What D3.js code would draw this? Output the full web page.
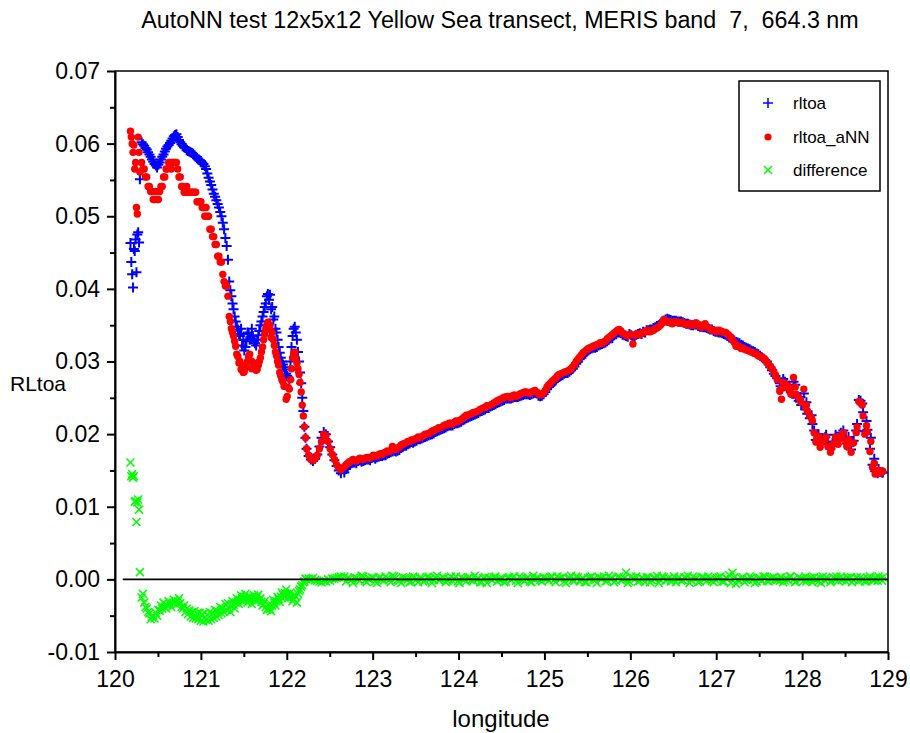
<!DOCTYPE html>
<html>
<head>
<meta charset="utf-8">
<script src="https://cdn.jsdelivr.net/npm/d3@7/dist/d3.min.js"></script>
<style>
  html, body { margin: 0; padding: 0; background: #fff; }
  svg { display: block; font-family: "Liberation Sans", Arial, sans-serif; }
</style>
</head>
<body>
<svg id="chart" width="910" height="733"></svg>
<script>
// Transect samples along the Yellow Sea track (longitude, degrees E)
const longitude = [
  120.18,120.19,120.20,120.21,120.22,120.23,120.24,120.25,120.26,120.27,120.28,120.29,
  120.31,120.34,120.37,120.40,120.43,120.46,120.49,120.52,120.55,120.58,120.61,120.64,120.67,120.70,
  120.73,120.76,120.79,120.82,120.85,120.88,120.91,120.94,120.97,121.00,121.03,121.06,121.09,121.12,
  121.15,121.18,121.21,121.24,121.27,121.30,
  121.33,121.355,121.38,121.405,121.43,121.455,121.48,121.505,121.53,121.555,121.58,121.605,121.63,
  121.655,121.68,121.705,121.73,121.755,121.78,121.805,121.83,121.855,121.88,121.905,121.93,121.955,
  121.98,122.005,122.03,122.055,122.08,122.105,122.13,122.155,122.18,122.205,122.23,122.255,122.28,
  122.305,122.33,122.355,122.38,122.405,122.43,122.455,122.48,122.505,122.53,122.555,122.58,122.605,122.63,
  122.67,122.71,122.75,122.79,122.83,122.87,122.91,122.95,122.99,123.03,123.07,123.11,123.15,123.19,
  123.23,123.27,123.31,123.35,123.39,123.43,123.47,123.51,123.55,123.59,123.63,123.67,123.71,123.75,
  123.79,123.83,123.87,123.91,123.95,123.99,124.03,124.07,124.11,124.15,124.19,124.23,124.27,124.31,
  124.35,124.39,124.43,124.47,124.51,124.55,124.59,124.63,124.67,124.71,124.75,124.79,124.83,124.87,
  124.91,124.95,124.99,125.03,
  125.07,125.11,125.15,125.19,125.23,125.27,125.31,125.35,125.39,125.43,125.47,125.51,125.55,125.59,
  125.63,125.67,125.71,125.75,125.79,125.83,125.87,125.91,125.95,125.99,126.03,126.07,126.11,126.15,
  126.19,126.23,126.27,126.31,126.35,126.39,126.43,126.47,126.51,126.55,126.59,126.63,126.67,126.71,
  126.75,126.79,126.83,126.87,126.91,126.95,126.99,127.03,127.07,127.11,127.15,127.19,127.23,127.27,
  127.31,127.35,127.39,127.43,127.47,127.51,127.55,127.59,127.63,127.67,127.71,
  127.74,127.76,127.78,127.81,127.84,127.87,127.90,127.93,127.96,127.99,128.02,128.04,128.06,128.09,
  128.12,128.14,128.16,128.19,128.21,128.24,128.27,128.30,128.33,128.36,128.39,128.42,128.45,128.48,
  128.51,128.54,128.57,128.60,128.63,128.66,128.68,128.71,128.73,128.76,128.79,128.82,128.85,128.88,
  128.91,128.94,
  // in-between samples
  120.325,120.355,120.385,120.415,120.445,120.475,120.505,120.535,120.565,120.595,120.625,120.655,
  120.685,120.715,120.745,120.775,120.805,120.835,120.865,120.895,120.925,120.955,120.985,121.015,
  121.045,121.075,121.105,121.135,121.165,121.195,121.225,121.255,121.285,121.315,
  121.343,121.368,121.393,121.418,121.443,121.468,121.493,121.518,121.543,121.568,121.593,121.618,
  121.643,121.668,121.693,121.718,121.743,121.768,121.793,121.818,121.843,121.868,121.893,121.918,
  121.943,121.968,121.993,122.018,122.043,122.068,122.093,122.118,122.143,122.168,122.193,122.218,
  122.69,122.73,122.77,122.81,122.85,122.89,122.93,122.97,123.01,123.05,123.09,123.13,123.17,123.21,
  123.25,123.29,123.33,123.37,123.41,123.45,123.49,123.53,123.57,123.61,123.65,123.69,123.73,123.77,
  123.81,123.85,123.89,123.93,123.97,124.01,124.05,124.09,124.13,124.17,124.21,124.25,124.29,124.33,
  124.37,124.41,124.45,124.49,124.53,124.57,124.61,124.65,124.69,124.73,124.77,124.81,124.85,124.89,
  124.93,124.97,125.01,
  125.05,125.09,125.13,125.17,125.21,125.25,125.29,125.33,125.37,125.41,125.45,125.49,125.53,125.57,
  125.61,125.65,125.69,125.73,125.77,125.81,125.85,125.89,125.93,125.97,126.01,126.05,126.09,126.13,
  126.17,126.21,126.25,126.29,126.33,126.37,126.41,126.45,126.49,126.53,126.57,126.61,126.65,126.69,
  126.73,126.77,126.81,126.85,126.89,126.93,126.97,127.01,127.05,127.09,127.13,127.17,127.21,127.25,
  127.29,127.33,127.37,127.41,127.45,127.49,127.53,127.57,127.61,127.65,127.69,
  127.75,127.80,127.86,127.92,127.98,128.05,128.11,128.17,128.22,128.28,128.34,128.40,128.46,128.52,
  128.58,128.64,128.70,128.75,128.80,128.84,128.89,128.93
];

// Measured top-of-atmosphere reflectance
const rltoa = [
  0.0463,0.0437,0.0420,0.0402,0.0455,0.0452,0.0468,0.0423,0.0475,0.0478,0.0464,0.0551,
  0.0602,0.0597,0.0592,0.0585,0.0578,0.0572,0.0567,0.0574,0.0582,0.0589,0.0596,0.0601,0.0607,0.0612,
  0.0609,0.0602,0.0597,0.0594,0.0590,0.0588,0.0586,0.0582,0.0578,0.0576,0.0572,0.0565,0.0553,0.0543,
  0.0531,0.0522,0.0512,0.0500,0.0482,0.0459,
  0.0410,0.0390,0.0372,0.0355,0.0344,0.0335,0.0322,0.0315,0.0328,0.0338,0.0332,0.0335,0.0325,
  0.0330,0.0342,0.0355,0.0368,0.0380,0.0393,0.0392,0.0375,0.0362,0.0340,0.0320,0.0305,0.0296,
  0.0289,0.0280,0.0275,0.0320,0.0345,0.0340,0.0313,0.0285,0.0250,0.0210,0.0180,0.0170,0.0165,
  0.0163,0.0166,0.0172,0.0183,0.0195,0.0203,0.0200,0.0190,0.0182,0.0172,0.0164,0.0156,0.0150,0.0146,
  0.0147,0.0155,0.0160,0.0161,0.0163,0.0162,0.0164,0.0165,0.0167,0.0166,0.0169,0.0170,0.0171,0.0174,
  0.0176,0.0176,0.0178,0.0182,0.0184,0.0187,0.0188,0.0191,0.0193,0.0195,0.0197,0.0199,0.0201,0.0204,
  0.0206,0.0208,0.0211,0.0212,0.0214,0.0215,0.0217,0.0220,0.0223,0.0225,0.0227,0.0229,0.0232,0.0234,
  0.0236,0.0239,0.0241,0.0244,0.0246,0.0249,0.0249,0.0250,0.0251,0.0252,0.0254,0.0255,0.0254,0.0256,
  0.0256,0.0252,0.0255,0.0262,
  0.0267,0.0272,0.0277,0.0280,0.0283,0.0284,0.0288,0.0293,0.0300,0.0305,0.0311,0.0315,0.0318,0.0319,
  0.0322,0.0324,0.0326,0.0330,0.0332,0.0338,0.0340,0.0337,0.0335,0.0338,0.0334,0.0337,0.0339,0.0341,
  0.0343,0.0344,0.0346,0.0349,0.0352,0.0356,0.0359,0.0357,0.0356,0.0355,0.0355,0.0353,0.0352,0.0350,
  0.0351,0.0349,0.0348,0.0347,0.0345,0.0344,0.0341,0.0340,0.0339,0.0337,0.0333,0.0331,0.0327,0.0325,
  0.0322,0.0319,0.0317,0.0314,0.0311,0.0308,0.0304,0.0300,0.0292,0.0283,0.0277,
  0.0270,0.0262,0.0276,0.0268,0.0261,0.0258,0.0272,0.0250,0.0246,0.0240,0.0256,0.0234,0.0228,0.0222,
  0.0214,0.0205,0.0192,0.0200,0.0186,0.0194,0.0196,0.0188,0.0180,0.0190,0.0199,0.0191,0.0202,0.0205,
  0.0193,0.0196,0.0179,0.0191,0.0205,0.0247,0.0246,0.0230,0.0204,0.0206,0.0180,0.0158,0.0149,0.0146,
  0.0148,0.0147,
  // in-between samples
  0.0599,0.0594,0.0588,0.0582,0.0575,0.0570,0.0571,0.0578,0.0585,0.0593,0.0598,0.0604,
  0.0610,0.0613,0.0605,0.0599,0.0595,0.0591,0.0589,0.0587,0.0584,0.0580,0.0577,0.0574,
  0.0569,0.0559,0.0548,0.0537,0.0527,0.0517,0.0506,0.0491,0.0470,0.0440,
  0.0398,0.0380,0.0362,0.0348,0.0338,0.0345,0.0330,0.0320,0.0340,0.0330,0.0345,0.0328,
  0.0322,0.0336,0.0350,0.0362,0.0375,0.0390,0.0385,0.0372,0.0358,0.0345,0.0330,0.0312,
  0.0300,0.0292,0.0283,0.0278,0.0300,0.0335,0.0348,0.0330,0.0300,0.0270,0.0232,0.0195,
  0.0152,0.0158,0.0161,0.0160,0.0164,0.0163,0.0165,0.0164,0.0168,0.0168,0.0170,0.0171,0.0173,0.0175,
  0.0177,0.0177,0.0181,0.0184,0.0186,0.0189,0.0190,0.0193,0.0194,0.0196,0.0198,0.0200,0.0203,0.0205,
  0.0207,0.0209,0.0212,0.0212,0.0215,0.0216,0.0219,0.0222,0.0224,0.0226,0.0228,0.0231,0.0233,0.0236,
  0.0238,0.0240,0.0243,0.0245,0.0247,0.0249,0.0249,0.0251,0.0251,0.0253,0.0255,0.0255,0.0255,0.0257,
  0.0253,0.0253,0.0258,
  0.0265,0.0270,0.0274,0.0279,0.0281,0.0284,0.0286,0.0290,0.0297,0.0303,0.0309,0.0313,0.0317,0.0319,
  0.0320,0.0323,0.0325,0.0328,0.0332,0.0336,0.0340,0.0339,0.0336,0.0334,0.0336,0.0335,0.0338,0.0338,
  0.0340,0.0343,0.0344,0.0347,0.0350,0.0354,0.0358,0.0358,0.0356,0.0356,0.0355,0.0354,0.0352,0.0351,
  0.0350,0.0351,0.0348,0.0347,0.0346,0.0344,0.0342,0.0341,0.0340,0.0338,0.0335,0.0332,0.0329,0.0326,
  0.0323,0.0320,0.0318,0.0315,0.0313,0.0310,0.0306,0.0302,0.0296,0.0288,0.0280,
  0.0266,0.0272,0.0262,0.0268,0.0251,0.0244,0.0226,0.0199,0.0192,0.0199,0.0184,0.0193,0.0198,0.0187,
  0.0190,0.0214,0.0242,0.0218,0.0195,0.0166,0.0152,0.0147
];

// Autoencoder (aNN) reconstruction of the same reflectance
const rltoaANN = [
  0.0617,0.0609,0.0600,0.0588,0.0598,0.0565,0.0574,0.0512,0.0503,0.0609,0.0588,0.0561,
  0.0574,0.0565,0.0554,0.0541,0.0534,0.0523,0.0523,0.0534,0.0541,0.0554,0.0565,0.0574,0.0574,0.0574,
  0.0565,0.0554,0.0541,0.0533,0.0533,0.0533,0.0533,0.0533,0.0520,0.0520,0.0512,0.0512,0.0500,0.0482,
  0.0472,0.0461,0.0445,0.0437,0.0410,0.0404,
  0.0362,0.0345,0.0335,0.0321,0.0307,0.0300,0.0290,0.0286,0.0292,0.0307,0.0301,0.0299,0.0292,
  0.0289,0.0300,0.0313,0.0330,0.0345,0.0354,0.0350,0.0340,0.0322,0.0308,0.0295,0.0280,0.0272,
  0.0266,0.0252,0.0262,0.0290,0.0311,0.0305,0.0290,0.0271,0.0240,0.0210,0.0180,0.0171,0.0165,
  0.0164,0.0166,0.0171,0.0180,0.0190,0.0200,0.0198,0.0190,0.0180,0.0172,0.0165,0.0158,0.0154,0.0151,
  0.0155,0.0160,0.0163,0.0164,0.0165,0.0166,0.0166,0.0168,0.0169,0.0170,0.0172,0.0172,0.0175,0.0176,
  0.0183,0.0179,0.0182,0.0186,0.0188,0.0190,0.0192,0.0194,0.0195,0.0198,0.0200,0.0202,0.0205,0.0207,
  0.0209,0.0212,0.0213,0.0215,0.0216,0.0217,0.0220,0.0224,0.0226,0.0228,0.0230,0.0232,0.0235,0.0237,
  0.0239,0.0241,0.0244,0.0247,0.0249,0.0251,0.0251,0.0253,0.0252,0.0255,0.0257,0.0258,0.0256,0.0259,
  0.0258,0.0254,0.0257,0.0265,
  0.0270,0.0275,0.0280,0.0283,0.0285,0.0287,0.0290,0.0296,0.0303,0.0309,0.0314,0.0318,0.0320,0.0322,
  0.0324,0.0325,0.0328,0.0333,0.0337,0.0341,0.0344,0.0339,0.0336,0.0337,0.0324,0.0338,0.0337,0.0340,
  0.0342,0.0341,0.0343,0.0346,0.0350,0.0358,0.0354,0.0353,0.0354,0.0354,0.0353,0.0352,0.0351,0.0350,
  0.0352,0.0351,0.0347,0.0352,0.0346,0.0343,0.0342,0.0343,0.0341,0.0340,0.0336,0.0330,0.0321,0.0320,
  0.0319,0.0316,0.0314,0.0312,0.0310,0.0307,0.0305,0.0299,0.0293,0.0286,0.0275,
  0.0259,0.0248,0.0271,0.0264,0.0266,0.0255,0.0278,0.0255,0.0250,0.0244,0.0262,0.0237,0.0232,0.0225,
  0.0218,0.0202,0.0189,0.0197,0.0182,0.0190,0.0193,0.0183,0.0175,0.0186,0.0196,0.0186,0.0198,0.0202,
  0.0189,0.0193,0.0175,0.0188,0.0202,0.0245,0.0243,0.0225,0.0200,0.0203,0.0176,0.0154,0.0145,0.0147,
  0.0146,0.0149,
  // in-between samples
  0.0565,0.0554,0.0541,0.0534,0.0523,0.0534,0.0523,0.0541,0.0554,0.0565,0.0574,0.0565,
  0.0574,0.0574,0.0554,0.0541,0.0533,0.0541,0.0533,0.0533,0.0533,0.0520,0.0520,0.0512,
  0.0500,0.0500,0.0482,0.0472,0.0461,0.0445,0.0437,0.0420,0.0404,0.0390,
  0.0355,0.0340,0.0328,0.0310,0.0298,0.0289,0.0285,0.0295,0.0300,0.0310,0.0290,0.0296,
  0.0288,0.0295,0.0305,0.0320,0.0338,0.0350,0.0345,0.0333,0.0330,0.0313,0.0300,0.0285,
  0.0275,0.0266,0.0248,0.0264,0.0275,0.0305,0.0313,0.0298,0.0282,0.0258,0.0225,0.0195,
  0.0158,0.0162,0.0165,0.0163,0.0167,0.0165,0.0168,0.0167,0.0171,0.0170,0.0173,0.0174,0.0177,0.0177,
  0.0180,0.0181,0.0185,0.0187,0.0190,0.0192,0.0193,0.0196,0.0196,0.0200,0.0201,0.0204,0.0206,0.0209,
  0.0210,0.0213,0.0215,0.0214,0.0218,0.0219,0.0222,0.0226,0.0227,0.0230,0.0231,0.0234,0.0236,0.0239,
  0.0240,0.0243,0.0246,0.0248,0.0251,0.0252,0.0250,0.0254,0.0253,0.0256,0.0258,0.0257,0.0258,0.0260,
  0.0256,0.0255,0.0260,
  0.0268,0.0273,0.0277,0.0282,0.0284,0.0286,0.0288,0.0293,0.0300,0.0306,0.0312,0.0316,0.0319,0.0321,
  0.0323,0.0326,0.0327,0.0331,0.0335,0.0339,0.0343,0.0342,0.0338,0.0335,0.0337,0.0336,0.0338,0.0339,
  0.0341,0.0343,0.0342,0.0345,0.0348,0.0353,0.0356,0.0355,0.0352,0.0355,0.0353,0.0354,0.0351,0.0352,
  0.0350,0.0353,0.0349,0.0350,0.0348,0.0345,0.0343,0.0341,0.0342,0.0340,0.0338,0.0333,0.0326,0.0322,
  0.0318,0.0317,0.0315,0.0313,0.0311,0.0308,0.0306,0.0302,0.0296,0.0290,0.0281,
  0.0262,0.0270,0.0258,0.0265,0.0247,0.0240,0.0222,0.0195,0.0188,0.0196,0.0180,0.0190,0.0195,0.0183,
  0.0187,0.0210,0.0240,0.0212,0.0190,0.0160,0.0150,0.0148
];

// aNN reconstruction minus measurement
const difference = [
  0.0161,0.0142,0.0145,0.0140,0.0142,0.0107,0.0108,0.0079,0.0106,0.0110,0.0096,0.0010,
  -0.0025,-0.0032,-0.0040,-0.0047,-0.0052,-0.0054,-0.0050,-0.0043,-0.0040,-0.0038,-0.0036,-0.0034,-0.0032,-0.0031,
  -0.0030,-0.0033,-0.0040,-0.0045,-0.0048,-0.0051,-0.0053,-0.0054,-0.0055,-0.0057,-0.0058,-0.0056,-0.0057,-0.0055,
  -0.0053,-0.0051,-0.0049,-0.0047,-0.0045,-0.0042,
  -0.0040,-0.0037,-0.0035,-0.0032,-0.0030,-0.0028,-0.0026,-0.0024,-0.0025,-0.0027,-0.0028,-0.0027,-0.0025,
  -0.0024,-0.0028,-0.0031,-0.0034,-0.0038,-0.0040,-0.0041,-0.0036,-0.0032,-0.0030,-0.0027,-0.0024,-0.0021,
  -0.0019,-0.0020,-0.0023,-0.0025,-0.0027,-0.0024,-0.0020,-0.0014,-0.0008,-0.0003,0.0000,0.0001,0.0000,
  0.0002,-0.0001,-0.0002,-0.0003,-0.0004,-0.0002,-0.0003,0.0000,-0.0002,0.0001,0.0001,0.0002,0.0003,0.0004,
  0.0004,0.0002,-0.0001,0.0003,0.0000,0.0005,-0.0002,0.0001,0.0003,-0.0003,0.0002,0.0000,0.0004,-0.0001,
  0.0005,0.0002,-0.0002,0.0003,0.0001,-0.0004,0.0004,0.0000,0.0002,-0.0003,0.0003,0.0001,-0.0001,0.0005,
  0.0000,0.0002,-0.0002,0.0004,0.0001,-0.0003,0.0003,0.0000,0.0002,-0.0001,0.0005,0.0001,-0.0004,0.0003,
  0.0002,-0.0001,0.0004,0.0000,0.0001,-0.0003,0.0003,0.0002,-0.0002,0.0004,0.0000,0.0001,-0.0003,0.0005,
  0.0002,-0.0001,0.0003,0.0001,
  0.0003,-0.0001,0.0004,0.0001,-0.0003,0.0002,0.0005,-0.0002,0.0003,0.0000,-0.0004,0.0002,0.0004,-0.0001,
  0.0003,0.0001,-0.0003,0.0005,0.0002,-0.0002,0.0004,0.0000,0.0009,-0.0003,0.0002,0.0004,-0.0002,0.0001,
  0.0003,-0.0004,0.0002,0.0005,-0.0001,0.0003,0.0000,-0.0003,0.0004,0.0001,-0.0002,0.0003,0.0005,-0.0001,
  0.0002,-0.0004,0.0003,0.0001,0.0004,-0.0002,0.0000,0.0003,-0.0003,0.0002,0.0006,0.0009,-0.0006,-0.0002,
  0.0003,-0.0001,0.0004,0.0000,-0.0003,0.0002,0.0004,-0.0002,0.0001,0.0003,-0.0001,
  -0.0002,0.0003,-0.0004,0.0002,-0.0001,0.0004,0.0000,-0.0003,0.0003,0.0001,-0.0002,0.0004,-0.0001,0.0002,
  -0.0004,0.0003,0.0000,-0.0003,0.0002,0.0004,-0.0002,0.0001,-0.0004,0.0003,0.0000,-0.0002,0.0004,0.0001,
  -0.0003,0.0002,0.0003,-0.0001,0.0002,-0.0002,0.0003,0.0000,-0.0003,0.0002,0.0004,-0.0001,0.0002,-0.0002,
  0.0001,0.0003,
  // in-between samples
  -0.0020,-0.0038,-0.0045,-0.0055,-0.0050,-0.0046,-0.0042,-0.0036,-0.0032,-0.0040,-0.0030,-0.0038,
  -0.0028,-0.0035,-0.0026,-0.0038,-0.0036,-0.0040,-0.0043,-0.0045,-0.0044,-0.0047,-0.0046,-0.0048,
  -0.0046,-0.0049,-0.0045,-0.0047,-0.0042,-0.0044,-0.0038,-0.0040,-0.0034,-0.0033,
  -0.0045,-0.0030,-0.0040,-0.0026,-0.0034,-0.0022,-0.0030,-0.0020,-0.0032,-0.0024,-0.0034,-0.0022,
  -0.0030,-0.0021,-0.0026,-0.0036,-0.0030,-0.0042,-0.0035,-0.0044,-0.0028,-0.0036,-0.0024,-0.0031,
  -0.0018,-0.0024,-0.0014,-0.0026,-0.0018,-0.0030,-0.0022,-0.0032,-0.0016,-0.0010,-0.0004,0.0001,
  -0.0003,0.0001,-0.0005,0.0002,-0.0002,0.0004,-0.0004,0.0000,0.0002,-0.0005,0.0003,-0.0002,0.0001,-0.0004,
  0.0004,-0.0001,-0.0005,0.0002,0.0000,-0.0003,0.0003,-0.0004,0.0001,-0.0002,0.0004,-0.0005,0.0002,-0.0001,
  0.0003,-0.0004,0.0000,-0.0002,0.0004,-0.0005,0.0001,-0.0003,0.0003,-0.0002,0.0000,-0.0004,0.0002,-0.0005,
  0.0001,0.0003,-0.0003,0.0000,-0.0004,0.0002,-0.0001,0.0004,-0.0005,0.0001,-0.0002,0.0003,-0.0004,0.0000,
  0.0002,-0.0003,0.0001,
  -0.0002,0.0004,-0.0004,0.0001,0.0003,-0.0005,0.0002,-0.0001,0.0004,-0.0003,0.0001,-0.0004,0.0003,0.0000,
  -0.0005,0.0002,0.0004,-0.0002,0.0001,-0.0004,0.0003,-0.0001,0.0002,-0.0005,0.0004,0.0000,-0.0003,0.0002,
  -0.0004,0.0003,-0.0001,0.0001,-0.0005,0.0004,-0.0002,0.0002,0.0000,-0.0004,0.0003,-0.0001,0.0002,-0.0005,
  0.0004,0.0001,-0.0003,0.0003,-0.0002,0.0000,-0.0004,0.0002,0.0004,-0.0003,0.0001,-0.0005,0.0003,-0.0001,
  0.0002,-0.0004,0.0000,0.0003,-0.0005,0.0001,-0.0002,0.0004,-0.0003,0.0002,0.0000,
  0.0003,-0.0002,0.0004,-0.0004,0.0001,-0.0003,0.0002,0.0000,-0.0005,0.0003,-0.0002,0.0004,-0.0001,0.0002,
  -0.0004,0.0003,0.0000,-0.0003,0.0002,-0.0001,0.0004,-0.0002
];

// Axis ticks
const xTicks = [120,121,122,123,124,125,126,127,128,129];
const xTickLabels = ["120","121","122","123","124","125","126","127","128","129"];
const xMinorTicks = [120.5,121.5,122.5,123.5,124.5,125.5,126.5,127.5,128.5];
const yTicks = [-0.01,0,0.01,0.02,0.03,0.04,0.05,0.06,0.07];
const yTickLabels = ["-0.01","0.00","0.01","0.02","0.03","0.04","0.05","0.06","0.07"];
const yMinorTicks = [-0.005,0.005,0.015,0.025,0.035,0.045,0.055,0.065];

const seriesNames = ["rltoa","rltoa_aNN","difference"];
const seriesColors = ["#0000ff","#ff0000","#00ff00"];

const titleText = "AutoNN test 12x5x12 Yellow Sea transect, MERIS band  7,  664.3 nm";

const svg = d3.select("#chart");
const plotLeft = 115, plotRight = 888, plotTop = 71, plotBottom = 652;

const x = d3.scaleLinear().domain([120,129]).range([plotLeft,plotRight]);
const y = d3.scaleLinear().domain([-0.01,0.07]).range([plotBottom,plotTop]);

const n = Math.min(longitude.length, rltoa.length, rltoaANN.length, difference.length);
const rows = longitude.slice(0,n).map((lon,i) => ({lon, a: rltoa[i], b: rltoaANN[i], d: difference[i]}));

// plot frame
svg.append("rect")
  .attr("x", plotLeft).attr("y", plotTop)
  .attr("width", plotRight-plotLeft).attr("height", plotBottom-plotTop)
  .attr("fill", "none").attr("stroke", "#000").attr("stroke-width", 1.5);

// markers
const plusPath = s => `M${-s},0H${s}M0,${-s}V${s}`;
const crossPath = s => `M${-s},${-s}L${s},${s}M${-s},${s}L${s},${-s}`;

const gData = svg.append("g");
gData.selectAll("path.rl").data(rows).join("path")
  .attr("class","rl")
  .attr("transform", d => `translate(${x(d.lon)},${y(d.a)})`)
  .attr("d", plusPath(5))
  .attr("fill","none").attr("stroke", seriesColors[0]).attr("stroke-width", 2);

gData.selectAll("circle.nn").data(rows).join("circle")
  .attr("class","nn")
  .attr("cx", d => x(d.lon)).attr("cy", d => y(d.b))
  .attr("r", 3.7)
  .attr("fill", seriesColors[1]);

gData.selectAll("path.df").data(rows).join("path")
  .attr("class","df")
  .attr("transform", d => `translate(${x(d.lon)},${y(d.d)})`)
  .attr("d", crossPath(4))
  .attr("fill","none").attr("stroke", seriesColors[2]).attr("stroke-width", 1.5);

// zero reference line
svg.append("line")
  .attr("x1", x(120.09)).attr("x2", plotRight)
  .attr("y1", y(0)).attr("y2", y(0))
  .attr("stroke", "#000").attr("stroke-width", 1.6);

// axes
const axisFont = 23;
const gx = svg.append("g").attr("transform", `translate(0,${plotBottom})`)
  .call(d3.axisBottom(x).tickValues(xTicks).tickSize(8).tickSizeOuter(0)
    .tickPadding(11).tickFormat((d,i) => xTickLabels[i]));
gx.select(".domain").attr("stroke-width", 2);
gx.selectAll(".tick line").attr("stroke-width", 2);
gx.selectAll("text").attr("font-size", axisFont).attr("fill","#000");

const gxm = svg.append("g").attr("transform", `translate(0,${plotBottom})`)
  .call(d3.axisBottom(x).tickValues(xMinorTicks).tickSize(5).tickSizeOuter(0).tickFormat(""));
gxm.select(".domain").remove();
gxm.selectAll(".tick line").attr("stroke-width", 2);

const gy = svg.append("g").attr("transform", `translate(${plotLeft},0)`)
  .call(d3.axisLeft(y).tickValues(yTicks).tickSize(8).tickSizeOuter(0)
    .tickPadding(7).tickFormat((d,i) => yTickLabels[i]));
gy.select(".domain").attr("stroke-width", 2);
gy.selectAll(".tick line").attr("stroke-width", 2);
gy.selectAll("text").attr("font-size", axisFont).attr("fill","#000");

const gym = svg.append("g").attr("transform", `translate(${plotLeft},0)`)
  .call(d3.axisLeft(y).tickValues(yMinorTicks).tickSize(5).tickSizeOuter(0).tickFormat(""));
gym.select(".domain").remove();
gym.selectAll(".tick line").attr("stroke-width", 2);

svg.selectAll(".domain, .tick line").attr("stroke","#000");
svg.selectAll("g").attr("font-family", null);

// titles
svg.append("text")
  .attr("x", 500).attr("y", 28)
  .attr("text-anchor","middle")
  .attr("font-size", 23.3)
  .style("white-space","pre")
  .text(titleText);

svg.append("text")
  .attr("x", 501).attr("y", 727)
  .attr("text-anchor","middle")
  .attr("font-size", 24)
  .text("longitude");

svg.append("text")
  .attr("x", 10).attr("y", 391)
  .attr("font-size", 21)
  .text("RLtoa");

// legend
const lg = svg.append("g");
lg.append("rect")
  .attr("x", 739).attr("y", 81).attr("width", 141).attr("height", 110)
  .attr("fill","#fff").attr("stroke","#000").attr("stroke-width", 1.5);
const legendY = [103, 137, 170];
seriesNames.forEach((name,i) => {
  const cy = legendY[i];
  if (i === 0) {
    lg.append("path").attr("transform", `translate(768,${cy})`).attr("d", plusPath(5))
      .attr("fill","none").attr("stroke", seriesColors[0]).attr("stroke-width", 1.5);
  } else if (i === 1) {
    lg.append("circle").attr("cx", 768).attr("cy", cy).attr("r", 3.6).attr("fill", seriesColors[1]);
  } else {
    lg.append("path").attr("transform", `translate(768,${cy})`).attr("d", crossPath(4))
      .attr("fill","none").attr("stroke", seriesColors[2]).attr("stroke-width", 1.5);
  }
  lg.append("text").attr("x", 793).attr("y", cy + 6)
    .attr("font-size", 17).text(name);
});
</script>
</body>
</html>
